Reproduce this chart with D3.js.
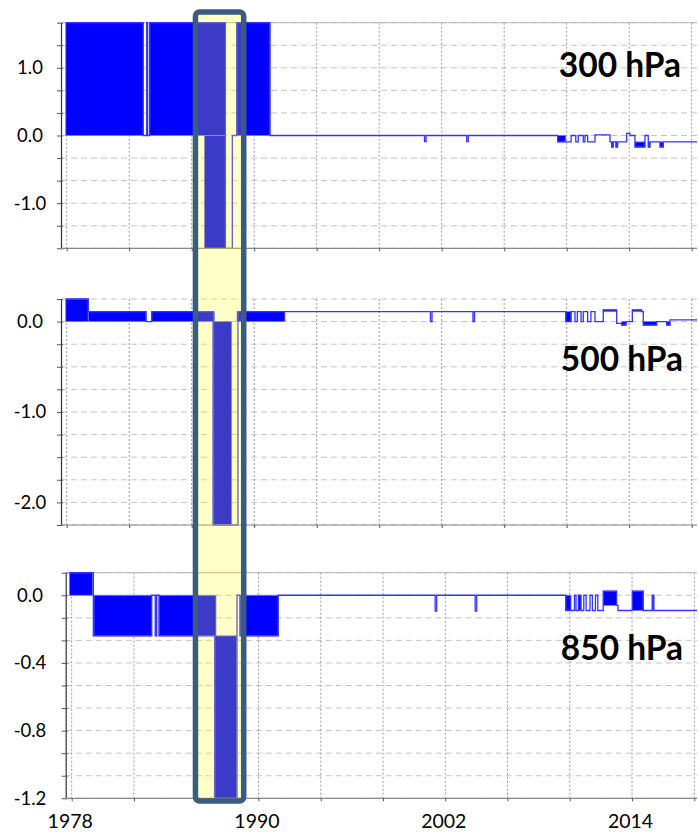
<!DOCTYPE html>
<html>
<head>
<meta charset="utf-8">
<script src="https://cdn.jsdelivr.net/npm/d3@7"></script>
<style>
  body { margin: 0; background: #fff; }
  svg { display: block; }
  text { font-family: Lato, "Noto Sans", sans-serif; fill: #000; }
</style>
</head>
<body>
<svg id="chart" width="698" height="833"></svg>
<script>
// ---- time axis ----
const yearTicks  = [1978, 1982, 1986, 1990, 1994, 1998, 2002, 2006, 2010, 2014, 2018];
const yearLabels = [1978, 1990, 2002, 2014];
const highlightYears = [1986.24, 1989.33];

// ---- 300 hPa ----
const level300 = "300 hPa";
const ticks300  = [-5/3, -4/3, -1, -2/3, -1/3, 0, 1/3, 2/3, 1, 4/3, 5/3];
const labels300 = [-1, 0, 1];
// filled blocks: [startYear, endYear, fromValue, toValue]
const fill300 = [
  [1977.94, 1982.90, 0, 1.667],
  [1983.12, 1983.18, 0, 1.667],
  [1983.31, 1988.16, 0, 1.667],
  [1986.81, 1988.16, 0, -1.667],
  [1988.88, 1991.01, 0, 1.667],
  [2009.42, 2009.94, 0, -0.095],
  [2012.88, 2012.98, -0.095, -0.17],
  [2013.15, 2013.26, -0.095, -0.17],
  [2014.37, 2015.01, -0.095, -0.17],
  [2015.22, 2015.33, -0.095, -0.17],
  [2015.97, 2016.18, -0.095, -0.17]
];
// step series: [year, value]
const line300 = [
  [1977.94, 1.667], [1982.90, 0], [1983.12, 1.667], [1983.18, 0], [1983.31, 1.667],
  [1988.16, -1.667], [1988.60, 0], [1988.88, 1.667], [1991.01, 0],
  [2000.90, -0.09], [2001.00, 0], [2003.60, -0.09], [2003.70, 0],
  [2009.42, -0.095], [2010.28, 0], [2010.58, -0.095], [2010.74, 0], [2011.06, -0.095],
  [2011.17, 0], [2011.34, -0.095], [2011.81, 0.01], [2012.77, -0.095], [2012.88, -0.17],
  [2012.98, -0.095], [2013.15, -0.17], [2013.26, -0.095], [2013.84, 0.03], [2014.05, 0],
  [2014.37, -0.17], [2015.01, 0], [2015.22, -0.17], [2015.33, -0.095], [2015.97, -0.17],
  [2016.18, -0.095], [2018.34, -0.095]
];

// ---- 500 hPa ----
const level500 = "500 hPa";
const ticks500  = [-2.25, -2, -1.75, -1.5, -1.25, -1, -0.75, -0.5, -0.25, 0, 0.25];
const labels500 = [-2, -1, 0];
const fill500 = [
  [1977.94, 1979.38, 0, 0.25],
  [1979.38, 1983.08, 0, 0.11],
  [1983.44, 1987.45, 0, 0.11],
  [1987.34, 1988.56, 0, -2.25],
  [1988.90, 1991.97, 0, 0.11],
  [2009.94, 2010.28, 0, 0.11],
  [2012.34, 2013.20, 0.11, 0.13],
  [2013.52, 2013.80, 0, -0.04],
  [2014.20, 2014.80, 0.11, 0.13],
  [2014.90, 2015.76, 0, -0.04],
  [2016.40, 2016.61, 0, -0.04]
];
const line500 = [
  [1977.94, 0.25], [1979.38, 0.11], [1983.08, 0], [1983.44, 0.11],
  [1987.40, -2.25], [1988.96, 0.11],
  [2001.28, 0], [2001.38, 0.11], [2004.00, 0], [2004.10, 0.11],
  [2009.94, 0], [2010.28, 0.11], [2010.53, 0], [2010.68, 0.11], [2010.92, 0],
  [2011.06, 0.11], [2011.34, 0], [2011.55, 0.11], [2011.81, 0], [2012.34, 0.13],
  [2013.20, -0.02], [2013.52, -0.04], [2013.80, 0], [2014.20, 0.13], [2014.80, 0.11],
  [2014.90, -0.04], [2015.76, 0], [2016.40, -0.04], [2016.61, 0.02], [2018.34, 0.02]
];

// ---- 850 hPa ----
const level850 = "850 hPa";
const ticks850  = [-1.2, -16/15, -14/15, -0.8, -10/15, -8/15, -0.4, -4/15, -2/15, 0, 2/15];
const labels850 = [-1.2, -0.8, -0.4, 0];
const fill850 = [
  [1977.85, 1979.35, 0, 0.133],
  [1979.43, 1983.14, 0, -0.24],
  [1983.37, 1983.46, 0, -0.24],
  [1983.61, 1987.27, 0, -0.24],
  [1987.16, 1988.60, -0.24, -1.2],
  [1988.81, 1991.27, 0, -0.24],
  [2009.74, 2010.08, 0, -0.09],
  [2010.55, 2010.72, 0, -0.09],
  [2012.15, 2013.01, 0.025, -0.06],
  [2014.02, 2014.72, 0.025, -0.09],
  [2015.30, 2015.40, 0, -0.09]
];
const line850 = [
  [1977.85, 0.133], [1979.39, -0.24], [1983.14, 0], [1983.37, -0.24], [1983.46, 0],
  [1983.61, -0.24], [1987.20, -1.2], [1988.62, 0], [1988.81, -0.24], [1991.27, 0],
  [2001.35, -0.094], [2001.45, 0], [2003.92, -0.094], [2004.02, 0],
  [2009.74, -0.09], [2010.30, 0], [2010.40, -0.09], [2010.55, 0], [2010.72, -0.09],
  [2010.90, 0], [2011.05, -0.09], [2011.30, 0], [2011.45, -0.09], [2011.65, 0],
  [2011.80, -0.09], [2012.15, 0.025], [2013.01, -0.06], [2013.10, -0.09],
  [2014.02, 0.025], [2014.72, -0.09], [2015.30, 0], [2015.40, -0.09], [2018.34, -0.09]
];

// ---- layout ----
const svg = d3.select("#chart");
const fmt1 = v => d3.format(".1f")(v).replace("\u2212", "-");

const panels = [
  { name: level300, ticks: ticks300, labels: labels300, fills: fill300, line: line300,
    left: 61, right: 697, top: 22.7, bottom: 248.3, x0: 66.7, x1: 691.7,
    title: [681, 77], showYears: false, topSolid: true },
  { name: level500, ticks: ticks500, labels: labels500, fills: fill500, line: line500,
    left: 61, right: 697, top: 299, bottom: 525, x0: 66.7, x1: 691.7,
    title: [683, 371], showYears: false, topSolid: false },
  { name: level850, ticks: ticks850, labels: labels850, fills: fill850, line: line850,
    left: 65.7, right: 697, top: 572.7, bottom: 798.3, x0: 71.7, x1: 694.3,
    title: [683, 660], showYears: true, topSolid: true }
];

let topScale = null;

panels.forEach((p, i) => {
  const x = d3.scaleLinear().domain([1978, 2018]).range([p.x0, p.x1]);
  const y = d3.scaleLinear().domain([d3.min(p.ticks), d3.max(p.ticks)]).range([p.bottom, p.top]);
  if (i === 0) topScale = x;

  const g = svg.append("g");
  const clipId = "clip" + i;
  svg.append("clipPath").attr("id", clipId)
    .append("rect").attr("x", p.left).attr("y", p.top - 1)
    .attr("width", p.right - p.left).attr("height", p.bottom - p.top + 2);

  // horizontal grid
  g.append("g").selectAll("line").data(p.ticks).join("line")
    .attr("x1", p.left).attr("x2", p.right)
    .attr("y1", d => y(d)).attr("y2", d => y(d))
    .attr("stroke", "#c4c4c4").attr("stroke-width", 1)
    .attr("stroke-dasharray", "6,4");

  // vertical grid
  g.append("g").selectAll("line").data(yearTicks).join("line")
    .attr("x1", d => x(d)).attr("x2", d => x(d))
    .attr("y1", p.top).attr("y2", p.bottom)
    .attr("stroke", "#9a9a9a").attr("stroke-width", 1)
    .attr("stroke-dasharray", "2,2");

  if (p.topSolid) {
    g.append("line").attr("x1", p.left).attr("x2", p.right)
      .attr("y1", p.top).attr("y2", p.top)
      .attr("stroke", "#b8b8b8").attr("stroke-width", 1);
  }

  const plot = g.append("g").attr("clip-path", `url(#${clipId})`);

  // filled blocks
  plot.append("g").selectAll("rect").data(p.fills).join("rect")
    .attr("x", d => x(d[0]))
    .attr("width", d => Math.max(0.5, x(d[1]) - x(d[0])))
    .attr("y", d => Math.min(y(d[2]), y(d[3])))
    .attr("height", d => Math.abs(y(d[2]) - y(d[3])))
    .attr("fill", "#0000ff")
    .attr("stroke", "#7878ff").attr("stroke-width", 0.8);

  // step outline
  const stepLine = d3.line()
    .x(d => x(d[0])).y(d => y(d[1]))
    .curve(d3.curveStepAfter);
  plot.append("path").datum(p.line)
    .attr("d", stepLine)
    .attr("fill", "none")
    .attr("stroke", "#3434ff").attr("stroke-width", 1.3);

  // left axis
  const ax = g.append("g").attr("transform", `translate(${p.left},0)`)
    .call(d3.axisLeft(y).tickValues(p.ticks).tickSize(4).tickSizeOuter(0)
      .tickFormat(d => p.labels.some(l => Math.abs(l - d) < 1e-6) ? fmt1(d) : ""));
  ax.select(".domain").attr("stroke", "#333").attr("stroke-width", 1.2);
  ax.selectAll(".tick line").attr("stroke", "#555").attr("x2", -4).attr("x1", 2);
  ax.selectAll(".tick text")
    .attr("x", 30 - p.left).attr("text-anchor", "middle")
    .style("font-family", "Lato, 'Noto Sans', sans-serif")
    .style("font-size", "18.5px").attr("fill", "#000");

  // bottom axis
  const bx = g.append("g").attr("transform", `translate(0,${p.bottom})`)
    .call(d3.axisBottom(x).tickValues(yearTicks).tickSize(3).tickSizeOuter(0)
      .tickFormat(d => p.showYears && yearLabels.includes(d) ? String(d) : ""));
  bx.select(".domain").attr("stroke", "#8a8a8a").attr("stroke-width", 1.2)
    .attr("d", `M${p.left},0H${p.right}`);
  bx.selectAll(".tick line").attr("stroke", "#555");
  bx.selectAll(".tick text")
    .attr("x", -2).attr("y", 0).attr("dy", 0)
    .attr("transform", `translate(0,${828 - p.bottom})`)
    .style("font-family", "Lato, 'Noto Sans', sans-serif")
    .style("font-size", "19.5px").attr("fill", "#000");

  // level label
  svg.append("text")
    .attr("x", p.title[0]).attr("y", p.title[1])
    .attr("text-anchor", "end")
    .style("font-family", "Lato, 'Noto Sans', sans-serif")
    .style("font-weight", "bold").style("font-size", "33.5px")
    .text(p.name);
});

// highlighted period across all levels
svg.append("rect")
  .attr("x", topScale(highlightYears[0]))
  .attr("width", topScale(highlightYears[1]) - topScale(highlightYears[0]))
  .attr("y", 12).attr("height", 789)
  .attr("rx", 4).attr("ry", 4)
  .attr("fill", "#ffff0e").attr("fill-opacity", 0.23)
  .attr("stroke", "#3d5a80").attr("stroke-width", 5.5);
</script>
</body>
</html>
